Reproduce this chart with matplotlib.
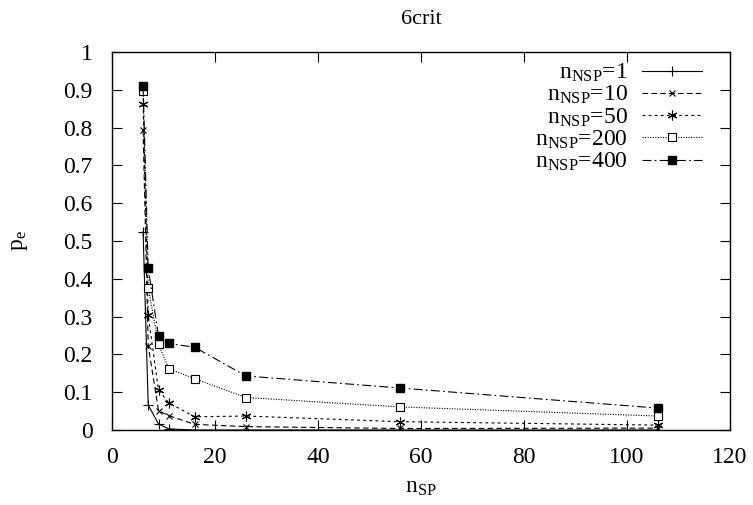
import matplotlib
matplotlib.use('Agg')
import matplotlib.pyplot as plt
from matplotlib.ticker import MultipleLocator, FuncFormatter

plt.rcParams['font.family'] = ['Liberation Serif', 'DejaVu Serif']
plt.rcParams['mathtext.fontset'] = 'custom'
plt.rcParams['mathtext.rm'] = 'Liberation Serif'
plt.rcParams['mathtext.it'] = 'Liberation Serif:italic'

# n_SP values (same for every curve)
n_sp = [6, 7, 9, 11, 16, 26, 56, 106]

# p_e for each n_NSP
pe_1 = [0.525, 0.066, 0.016, 0.003, 0.0, 0.0, 0.0, 0.0]
pe_10 = [0.794, 0.223, 0.051, 0.038, 0.015, 0.009, 0.004, 0.005]
pe_50 = [0.862, 0.303, 0.106, 0.072, 0.035, 0.037, 0.022, 0.013]
pe_200 = [0.898, 0.377, 0.227, 0.162, 0.136, 0.086, 0.061, 0.037]
pe_400 = [0.910, 0.428, 0.249, 0.229, 0.219, 0.143, 0.111, 0.058]

labels = ['1', '10', '50', '200', '400']

fig = plt.figure(figsize=(7.53, 5.05), dpi=100)
ax = fig.add_axes([0.149, 0.1485, 0.82, 0.7485])

lw = 0.8
ax.plot(n_sp, pe_1, color='black', lw=lw, ls='-', marker='+', ms=7, mew=0.8,
        label='n$_{\\mathrm{NSP}}$=' + labels[0])
ax.plot(n_sp, pe_10, color='black', lw=lw, ls=(0, (5, 3)), marker='x', ms=5, mew=0.8,
        label='n$_{\\mathrm{NSP}}$=' + labels[1])
ax.plot(n_sp, pe_50, color='black', lw=lw, ls=(0, (2.5, 3)), marker=(6, 2, 0), ms=7, mew=0.8,
        label='n$_{\\mathrm{NSP}}$=' + labels[2])
ax.plot(n_sp, pe_200, color='black', lw=lw, ls=(0, (1, 1.3)), marker='s', ms=5.5,
        mfc='white', mec='black', mew=0.8,
        label='n$_{\\mathrm{NSP}}$=' + labels[3])
ax.plot(n_sp, pe_400, color='black', lw=lw, ls=(0, (8, 3, 1.5, 3)), marker='s', ms=5.5,
        mfc='black', mec='black',
        label='n$_{\\mathrm{NSP}}$=' + labels[4])

ax.set_xlim(0, 120)
ax.set_ylim(0, 1)
ax.xaxis.set_major_locator(MultipleLocator(20))
ax.yaxis.set_major_locator(MultipleLocator(0.1))
ax.yaxis.set_major_formatter(FuncFormatter(lambda v, p: '%g' % round(v, 2)))
ax.tick_params(direction='in', length=7, width=0.8, top=True, right=True,
               labelsize=17)
ax.tick_params(axis='x', pad=12)
ax.tick_params(axis='y', pad=14)
for s in ax.spines.values():
    s.set_linewidth(1.0)

ax.set_title('6crit', fontsize=16, pad=20)
ax.set_xlabel('n$_{\\mathrm{SP}}$', fontsize=17, labelpad=7)
ax.set_ylabel('p$_{\\mathrm{e}}$', fontsize=17, labelpad=24)

leg = ax.legend(loc='upper right', bbox_to_anchor=(0.955, 0.974),
                markerfirst=False, frameon=False, fontsize=17,
                handlelength=2.55, handletextpad=0.6, labelspacing=0.0,
                borderaxespad=0, borderpad=0)

fig.savefig('out.png', dpi=100)
